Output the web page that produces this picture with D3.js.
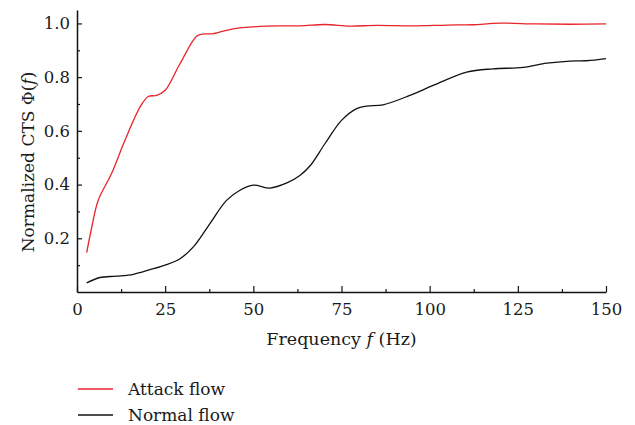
<!DOCTYPE html>
<html>
<head>
<meta charset="utf-8">
<script src="https://cdn.jsdelivr.net/npm/d3@7"></script>
<style>
  body { margin: 0; background: #fff; }
  svg text { font-family: "DejaVu Serif", serif; fill: #1a1a1a; }
</style>
</head>
<body>
<div id="VizBox"></div>
<script>
// series (frequency in Hz, normalized CTS)
var attackFreq = [2.75, 4.2, 6, 9.8, 13.6, 17.9, 20.2, 22.6, 25, 29.2, 33.9, 35.5, 38.7, 44.3, 53.8, 63.2, 70.3, 77.4, 85, 95, 105, 112, 120, 130, 140, 150];
var attackVal  = [0.147, 0.242, 0.341, 0.441, 0.565, 0.689, 0.728, 0.732, 0.751, 0.85, 0.952, 0.96, 0.962, 0.98, 0.99, 0.991, 0.996, 0.99, 0.993, 0.991, 0.994, 0.995, 1.001, 0.998, 0.997, 0.998];

var normalFreq = [2.75, 6.5, 11.2, 16, 20.7, 25.4, 29.2, 33, 37.7, 42.4, 46.2, 50, 54.7, 59.5, 63.2, 66.1, 70.3, 75, 79.3, 82.1, 86.8, 94.4, 101, 110.5, 118, 126.5, 133.2, 139.8, 144.5, 150];
var normalVal  = [0.034, 0.054, 0.059, 0.066, 0.083, 0.102, 0.124, 0.168, 0.255, 0.341, 0.379, 0.398, 0.387, 0.406, 0.434, 0.47, 0.552, 0.639, 0.683, 0.692, 0.697, 0.732, 0.769, 0.819, 0.831, 0.836, 0.852, 0.86, 0.861, 0.869];

var xMajor = [0, 25, 50, 75, 100, 125, 150];
var xMinor = [12.5, 37.5, 62.5, 87.5, 112.5, 137.5];
var yMajor = [0.2, 0.4, 0.6, 0.8, 1.0];
var yMinor = [0.1, 0.3, 0.5, 0.7, 0.9];

var seriesNames = ["Attack flow", "Normal flow"];
var seriesColors = ["#e8242b", "#111"];

var margin = {top: 10, right: 29, bottom: 133, left: 77},
    width = 635 - margin.left - margin.right,
    height = 425 - margin.top - margin.bottom;

var svg = d3.select("#VizBox")
  .append("svg")
    .attr("width", 635)
    .attr("height", 425)
  .append("g")
    .attr("transform", "translate(" + margin.left + "," + margin.top + ")");

var x = d3.scaleLinear().domain([0, 150]).range([0, width]);
var y = d3.scaleLinear().domain([0, 1.05]).range([height, 0]);

// axes with inward ticks
svg.append("g")
  .attr("transform", "translate(0," + height + ")")
  .call(d3.axisBottom(x).tickValues(xMajor).tickSizeInner(-6).tickSizeOuter(0).tickPadding(11).tickFormat(d3.format("d")));
svg.append("g")
  .attr("transform", "translate(0," + height + ")")
  .call(d3.axisBottom(x).tickValues(xMinor).tickSizeInner(-3).tickSizeOuter(0).tickFormat(""))
  .select(".domain").remove();

svg.append("g")
  .call(d3.axisLeft(y).tickValues(yMajor).tickSizeInner(-5).tickSizeOuter(0).tickPadding(7).tickFormat(d3.format(".1f")));
svg.append("g")
  .call(d3.axisLeft(y).tickValues(yMinor).tickSizeInner(-3).tickSizeOuter(0).tickFormat(""))
  .select(".domain").remove();

svg.selectAll(".domain").attr("stroke", "#111").attr("stroke-width", 1.5);
svg.selectAll(".tick line").attr("stroke", "#111").attr("stroke-width", 1.2);
svg.selectAll(".tick text")
  .style("font-family", "DejaVu Serif")
  .style("font-size", "16.5px")
  .attr("fill", "#1a1a1a");

// curves
var line = d3.line()
  .x(function(d) { return x(d[0]); })
  .y(function(d) { return y(d[1]); })
  .curve(d3.curveCatmullRom.alpha(0.5));

var attack = attackFreq.map(function(f, i) { return [f, attackVal[i]]; });
var normal = normalFreq.map(function(f, i) { return [f, normalVal[i]]; });

[attack, normal].forEach(function(s, i) {
  svg.append("path")
    .datum(s)
    .attr("fill", "none")
    .attr("stroke", seriesColors[i])
    .attr("stroke-width", 1.3)
    .attr("d", line);
});

// axis titles
var xt = svg.append("text")
  .attr("x", width / 2)
  .attr("y", height + 53)
  .attr("text-anchor", "middle")
  .style("font-size", "17.5px");
xt.append("tspan").text("Frequency ");
xt.append("tspan").attr("font-style", "italic").text("f");
xt.append("tspan").text(" (Hz)");

var yt = svg.append("text")
  .attr("transform", "translate(-43," + (height / 2 + 11) + ") rotate(-90)")
  .attr("text-anchor", "middle")
  .style("font-size", "17px");
yt.append("tspan").text("Normalized CTS \u03A6(");
yt.append("tspan").attr("font-style", "italic").text("f");
yt.append("tspan").text(")");

// legend
var legend = svg.append("g")
  .attr("transform", "translate(0," + (height + 97) + ")");
seriesNames.forEach(function(name, i) {
  legend.append("line")
    .attr("x1", 1).attr("x2", 36)
    .attr("y1", i * 26).attr("y2", i * 26)
    .attr("stroke", seriesColors[i])
    .attr("stroke-width", 1.3);
  legend.append("text")
    .attr("x", 51)
    .attr("y", i * 26 + 6)
    .style("font-size", "17px")
    .text(name);
});
</script>
</body>
</html>
